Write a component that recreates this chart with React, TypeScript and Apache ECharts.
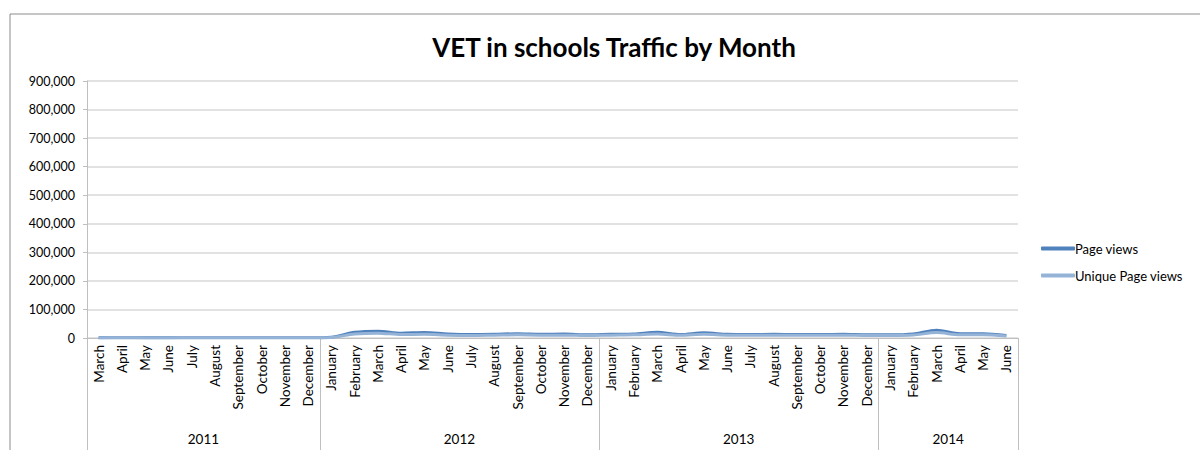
import React, { useEffect, useRef } from "react";
import * as echarts from "echarts";

const years = ["2011", "2012", "2013", "2014"];
const monthsPerYear = [
  ["March", "April", "May", "June", "July", "August", "September", "October", "November", "December"],
  ["January", "February", "March", "April", "May", "June", "July", "August", "September", "October", "November", "December"],
  ["January", "February", "March", "April", "May", "June", "July", "August", "September", "October", "November", "December"],
  ["January", "February", "March", "April", "May", "June"],
];

const pageViews = [
  600, 700, 600, 600, 700, 700, 800, 700, 800, 700,
  3000, 20000, 24000, 17000, 19000, 14000, 12000, 13000, 15000, 13000, 14000, 11000,
  13000, 14000, 20000, 12000, 18000, 13000, 12000, 13000, 12000, 12000, 13000, 11000,
  11000, 14000, 27000, 15000, 15000, 9000,
];
const uniquePageViews = [
  400, 500, 400, 400, 500, 500, 500, 500, 500, 500,
  2000, 14000, 17000, 12000, 13000, 10000, 9000, 10000, 11000, 10000, 10000, 8500,
  10000, 11000, 14000, 9500, 13000, 10000, 9500, 10000, 9500, 9500, 10000, 9000,
  9000, 10500, 19000, 11500, 11500, 7000,
];
const yTicks = { min: 0, max: 900000, interval: 100000 };

const FONT = "Lato, 'Open Sans', sans-serif";

export default function App() {
  const ref = useRef<HTMLDivElement>(null);
  useEffect(() => {
    if (!ref.current) return;
    const chart = echarts.init(ref.current, null, { renderer: "svg" });
    const months: string[] = [];
    monthsPerYear.forEach((m) => months.push(...m));
    // helper axis with half-month slots for year grouping
    const total = months.length * 2;
    const yearSlots: string[] = new Array(total + 1).fill("");
    const boundaries: number[] = [0];
    const centers: number[] = [];
    let acc = 0;
    monthsPerYear.forEach((m, i) => {
      const c = acc + m.length;
      yearSlots[c] = years[i];
      centers.push(c);
      acc += m.length * 2;
      boundaries.push(acc);
    });
    chart.setOption({
      animation: false,
      textStyle: { fontFamily: FONT },
      title: {
        text: "VET in schools Traffic by Month",
        left: 609,
        textAlign: "center",
        top: 29,
        textStyle: { fontFamily: FONT, fontSize: 26, fontWeight: "bold", color: "#000" },
      },
      legend: {
        orient: "vertical",
        left: 1036,
        top: 237,
        itemWidth: 34,
        itemHeight: 4,
        itemGap: 14,
        icon: "roundRect",
        textStyle: { fontFamily: FONT, fontSize: 13, color: "#000", padding: [0, 0, 0, -5] },
        data: ["Page views", "Unique Page views"],
      },
      graphic: [
        {
          type: "rect",
          shape: { x: 10, y: 14, width: 1300, height: 600 },
          style: { fill: "none", stroke: "#8c8c8c", lineWidth: 1 },
          silent: true,
        },
      ],
      grid: { left: 87, right: 182, top: 81, bottom: 112 },
      xAxis: [
        {
          type: "category",
          data: months,
          boundaryGap: true,
          axisLine: { show: true, lineStyle: { color: "#bfbfbf", width: 1 } },
          axisTick: { show: false },
          axisLabel: {
            rotate: 90,
            interval: 0,
            margin: 7,
            fontSize: 13.5,
            color: "#000",
            fontFamily: FONT,
          },
        },
        {
          type: "category",
          data: yearSlots,
          position: "bottom",
          boundaryGap: false,
          axisLine: { show: false },
          axisTick: {
            show: true,
            length: 120,
            interval: (i: number) => boundaries.includes(i),
            lineStyle: { color: "#bfbfbf", width: 1 },
          },
          axisLabel: {
            interval: (i: number) => centers.includes(i),
            margin: 94,
            fontSize: 13.5,
            color: "#000",
            fontFamily: FONT,
          },
        },
      ],
      yAxis: {
        type: "value",
        min: yTicks.min,
        max: yTicks.max,
        interval: yTicks.interval,
        axisLine: { show: true, lineStyle: { color: "#bfbfbf" } },
        axisTick: { show: true, length: 4, lineStyle: { color: "#bfbfbf" } },
        splitLine: { show: true, lineStyle: { color: "#d9d9d9", width: 1.5 } },
        axisLabel: {
          margin: 12,
          fontSize: 12.5,
          color: "#000",
          fontFamily: FONT,
          formatter: (v: number) => v.toLocaleString("en-US"),
        },
      },
      series: [
        {
          name: "Page views",
          type: "line",
          data: pageViews,
          showSymbol: false,
          smooth: 0.3,
          lineStyle: { width: 3, color: "#4f81bd" },
          itemStyle: { color: "#4f81bd" },
        },
        {
          name: "Unique Page views",
          type: "line",
          data: uniquePageViews,
          showSymbol: false,
          smooth: 0.3,
          lineStyle: { width: 3, color: "#95b3d7" },
          itemStyle: { color: "#95b3d7" },
        },
      ],
    });
    return () => chart.dispose();
  }, []);
  return (
    <div
      ref={ref}
      style={{ position: "absolute", left: 0, top: 0, width: 1200, height: 450, background: "#fff" }}
    />
  );
}
